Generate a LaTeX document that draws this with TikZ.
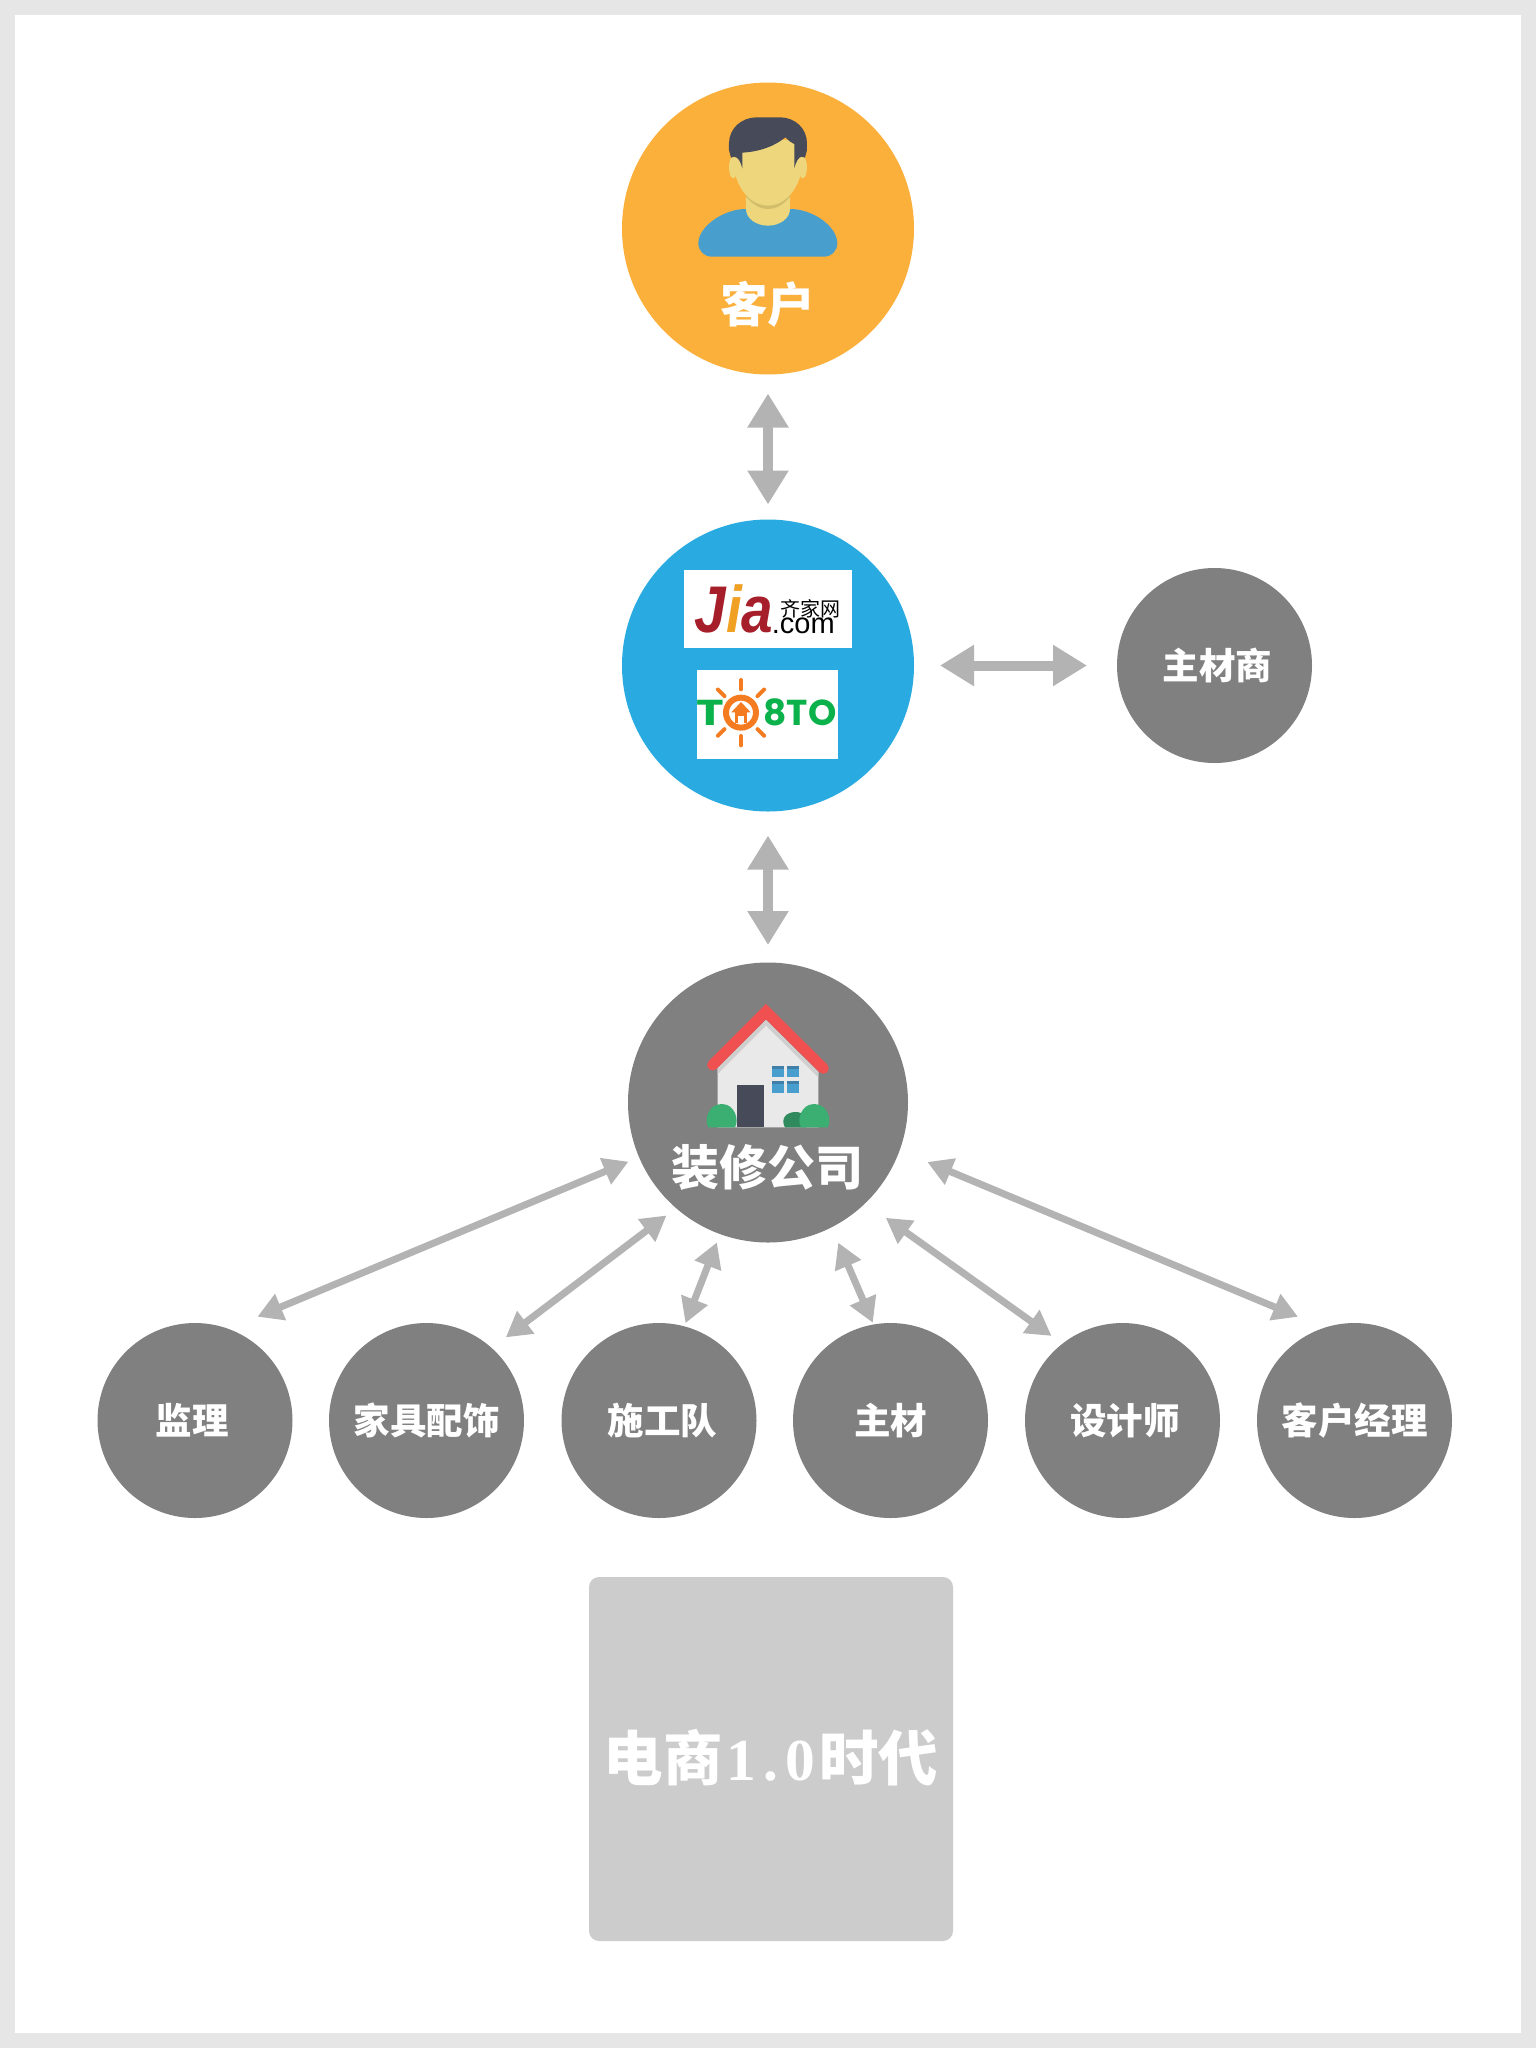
\documentclass[tikz,border=0pt]{standalone}
\usepackage{fontspec}
\usepackage{tikz}
\usetikzlibrary{arrows.meta}
\newfontfamily\cjk{Noto Sans CJK SC}
\newfontfamily\arial{Liberation Sans}
\newfontfamily\numfont{Liberation Serif}
\newfontfamily\logofont{Poppins}
\definecolor{framegray}{HTML}{E6E6E6}
\definecolor{orangefill}{HTML}{FCB03C}
\definecolor{bluefill}{HTML}{29ABE2}
\definecolor{circgray}{HTML}{808080}
\definecolor{arrowgray}{HTML}{B3B3B3}
\definecolor{boxgray}{HTML}{CCCCCC}
\definecolor{hair}{HTML}{464A59}
\definecolor{skin}{HTML}{EDD67C}
\definecolor{skindark}{HTML}{D2BD6B}
\definecolor{shirt}{HTML}{489FCD}
\definecolor{shirtdark}{HTML}{3F7FA8}
\definecolor{roofred}{HTML}{F05050}
\definecolor{wallgray}{HTML}{E9E9E9}
\definecolor{wallshade}{HTML}{CFCFCF}
\definecolor{bushgreen}{HTML}{3BAE72}
\definecolor{bushdark}{HTML}{2F8A5E}
\definecolor{jiared}{HTML}{A61E2A}
\definecolor{jiaorange}{HTML}{F0A023}
\definecolor{tobgreen}{HTML}{0BB14B}
\definecolor{toborange}{HTML}{F47B20}
\tikzset{
  bigcirc/.style={circle,inner sep=0pt,outer sep=0pt,minimum size=#1,text=white},
  smallcirc/.style={bigcirc=195pt,fill=circgray,font=\cjk\bfseries\fontsize{36.5}{40}\selectfont},
  bigtext/.style={text=white,inner sep=0pt,font=\cjk\bfseries\fontsize{#1}{50}\selectfont},
  fatarrow/.style={{Triangle[length=34pt,width=39pt]}-{Triangle[length=34pt,width=39pt]},line width=10pt,draw=arrowgray},
  fanarrow/.style={{Triangle[length=25pt,width=27pt]}-{Triangle[length=25pt,width=27pt]},line width=7pt,draw=arrowgray},
}
\begin{document}
\begin{tikzpicture}[x=1pt,y=-1pt]
\useasboundingbox (0,0) rectangle (1536,2048);
\fill[framegray] (0,0) rectangle (1536,2048);
\fill[white] (15,15) rectangle (1521,2033);

\node[bigcirc=292pt,fill=orangefill] (kehu) at (768,228.5) {};
\node[bigcirc=292pt,fill=bluefill] (pingtai) at (768,665.5) {};
\node[bigcirc=280pt,fill=circgray] (gongsi) at (768,1102.5) {};
\node[smallcirc] (zhucaishang) at (1214.5,665.5) {\hspace*{6pt}主材商};

\node[smallcirc] (jianli) at (195,1420.5) {\hspace*{-6pt}监理};
\node[smallcirc] (jiaju) at (426.5,1420.5) {家具配饰};
\node[smallcirc] (shigong) at (659,1420.5) {\hspace*{7pt}施工队};
\node[smallcirc] (zhucai) at (890.5,1420.5) {主材};
\node[smallcirc] (sheji) at (1122.5,1420.5) {\hspace*{5pt}\raisebox{-3.5pt}{设计师}};
\node[smallcirc] (jingli) at (1354.5,1420.5) {客户经理};

\node[bigtext=47.5] (kehulabel) at (767.5,304) {客户};
\node[bigtext=48] (gongsilabel) at (767.5,1167) {装修公司};

\draw[fatarrow,shorten <=19pt,shorten >=15pt] (kehu.south) -- (pingtai.north);
\draw[fatarrow,shorten <=24pt,shorten >=17.5pt] (pingtai.south) -- (gongsi.north);
\draw[fatarrow,shorten <=26pt,shorten >=30pt] (pingtai.east) -- (zhucaishang.west);

\draw[fanarrow,shorten <=31.6pt,shorten >=11.5pt] (jianli.70) -- (gongsi.203.05);
\draw[fanarrow,shorten <=17.7pt,shorten >=12.1pt] (jiaju.48.8) -- (gongsi.229.8);
\draw[fanarrow,shorten <=3.4pt,shorten >=8.9pt] (shigong.75.5) -- (gongsi.250);
\draw[fanarrow,shorten <=1.9pt,shorten >=16.8pt] (zhucai.100.8) -- (gongsi.297.4);
\draw[fanarrow,shorten <=13.4pt,shorten >=25.2pt] (sheji.128.9) -- (gongsi.314.8);
\draw[fanarrow,shorten <=28.6pt,shorten >=30.1pt] (jingli.108) -- (gongsi.340.1);

% box at the bottom
\draw[fill=boxgray,draw=none,rounded corners=10pt] (589,1577) rectangle (953,1941);
\node[text=white,inner sep=0pt,font=\cjk\bfseries\fontsize{59.5}{64}\selectfont] (shidai) at (771,1758)
  {电商{\numfont\bfseries\hspace{4pt}1\hspace{7pt}.\hspace{7pt}0\hspace{4pt}}时代};

% person
\begin{scope}[shift={(600,60)},x=0.3333pt,y=-0.3333pt]
\fill[shirt] (335,590) -- (672,590) .. controls (695,590) and (712,572) .. (712,550)
  .. controls (712,500) and (640,447) .. (570,447) -- (438,447)
  .. controls (370,447) and (295,500) .. (295,550) .. controls (295,572) and (312,590) .. (335,590) -- cycle;
\fill[skin] (438,400) -- (570,400) -- (570,447) .. controls (570,475) and (540,497) .. (504,497)
  .. controls (468,497) and (438,475) .. (438,447) -- cycle;
\fill[skindark] (438,410) .. controls (460,435) and (480,447) .. (504,447)
  .. controls (528,447) and (550,435) .. (570,410) -- (570,395) -- (438,395) -- cycle;
\fill[skin] (400,322) ellipse (13 and 33);
\fill[skin] (608,322) ellipse (13 and 33);
\fill[skin] (405,240) -- (603,240) -- (603,340) .. controls (590,395) and (550,437) .. (504,437)
  .. controls (458,437) and (418,395) .. (405,340) -- cycle;
\fill[hair] (427,325) .. controls (422,305) and (415,292) .. (403,290) -- (393,293) -- (387,270) -- (387,250)
  .. controls (387,205) and (425,172) .. (470,172) -- (540,172)
  .. controls (585,172) and (621,205) .. (621,250) -- (621,270) -- (615,293) -- (605,290)
  .. controls (595,292) and (588,305) .. (583,325) -- (583,252)
  .. controls (575,248) and (565,242) .. (556,232) .. controls (525,258) and (480,275) .. (427,278) -- cycle;
\end{scope}

% logos
\begin{scope}[shift={(600,510)},x=0.3333pt,y=-0.3333pt]
\fill[white] (252,181) rectangle (755,414);
\fill[white] (292,480) rectangle (715,746);
\node[inner sep=0pt,font=\arial\bfseries\itshape\fontsize{66}{70}\selectfont] (jia) at (402,298)
  {\scalebox{0.86}[1]{\textcolor{jiared}{J}\textcolor{jiaorange}{i}\textcolor{jiared}{a}}};
\node[inner sep=0pt,font=\cjk\fontsize{20}{22}\selectfont] (qijia) at (631,296) {齐家网};
\node[inner sep=0pt,font=\arial\fontsize{29}{30}\selectfont] (dotcom) at (610,348) {.com};
\node[inner sep=0pt,text=tobgreen,font=\logofont\bfseries\fontsize{36}{40}\selectfont] (tobt) at (330,608) {\scalebox{1.3}[1]{T}};
\node[inner sep=0pt,text=tobgreen,font=\logofont\bfseries\fontsize{36}{40}\selectfont] (bto) at (600,608) {8TO};
\begin{scope}[shift={(423,608)}]
\draw[toborange,line width=6pt] (0,0) circle (45);
\foreach \a in {45,90,135,225,270,315}
  \draw[toborange,line width=4pt,line cap=round] (\a:70) -- (\a:98);
\fill[toborange] (0,-32) -- (-29,-1) -- (29,-1) -- cycle;
\fill[toborange] (-18,-1) rectangle (18,30);
\fill[white] (-8,10) rectangle (8,30);
\end{scope}
\end{scope}

% house
\begin{scope}[shift={(600,950)},x=0.3333pt,y=-0.3333pt]
\fill[wallgray] (353,532) -- (353,355) -- (498,210) -- (655,365) -- (655,532) -- cycle;
\fill[wallshade] (353,355) -- (498,210) -- (655,365) -- (655,382) -- (498,227) -- (353,372) -- cycle;
\draw[roofred,line width=11pt,line cap=round,line join=miter] (338,345) -- (498,185) -- (670,355);
\fill[hair] (411,405) rectangle (492,532);
\foreach \wx/\wy in {516/347,562/347,516/393,562/393} {
  \fill[shirt] (\wx,\wy) rectangle ++(35,35);
  \fill[shirtdark] (\wx,\wy) rectangle ++(35,10);
}
\fill[bushdark] (555,532) .. controls (540,505) and (560,486) .. (587,486) .. controls (610,486) and (630,505) .. (620,532) -- cycle;
\fill[bushgreen] (325,532) .. controls (312,510) and (325,462) .. (365,462) .. controls (405,462) and (418,510) .. (405,532) -- cycle;
\fill[bushgreen] (603,532) .. controls (590,510) and (603,462) .. (643,462) .. controls (683,462) and (696,510) .. (683,532) -- cycle;
\end{scope}
\end{tikzpicture}
\end{document}
